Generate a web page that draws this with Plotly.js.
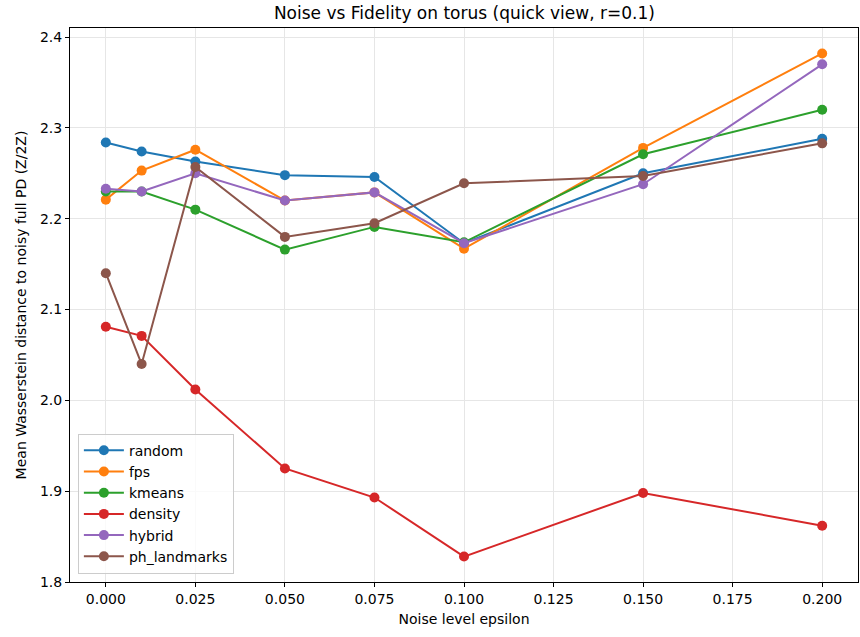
<!DOCTYPE html>
<html>
<head>
<meta charset="utf-8">
<script src="https://cdn.plot.ly/plotly-3.0.1.min.js"></script>
<style>html,body{margin:0;padding:0;background:#fff;}#chart{width:860px;height:637px;}</style>
</head>
<body>
<div id="chart"></div>
<script>
const epsilons = [0, 0.01, 0.025, 0.05, 0.075, 0.1, 0.15, 0.2];
const seriesNames = ["random", "fps", "kmeans", "density", "hybrid", "ph_landmarks"];
const random = [2.284, 2.274, 2.263, 2.248, 2.246, 2.173, 2.250, 2.288];
const fps = [2.221, 2.253, 2.276, 2.220, 2.229, 2.167, 2.278, 2.382];
const kmeans = [2.230, 2.230, 2.210, 2.166, 2.191, 2.174, 2.271, 2.320];
const density = [2.081, 2.071, 2.012, 1.925, 1.893, 1.828, 1.898, 1.862];
const hybrid = [2.233, 2.230, 2.250, 2.220, 2.229, 2.173, 2.238, 2.370];
const ph_landmarks = [2.140, 2.040, 2.257, 2.180, 2.195, 2.239, 2.247, 2.283];
const colors = ["#1f77b4", "#ff7f0e", "#2ca02c", "#d62728", "#9467bd", "#8c564b"];

const allY = [random, fps, kmeans, density, hybrid, ph_landmarks];
const traces = seriesNames.map((n, i) => ({
  x: epsilons, y: allY[i], name: n, type: "scatter", mode: "lines+markers",
  line: {color: colors[i], width: 2},
  marker: {color: colors[i], size: 10}
}));

const font = {family: "DejaVu Sans, sans-serif", size: 14, color: "#000"};
const layout = {
  width: 860, height: 637,
  margin: {l: 70, r: 2, t: 28, b: 55},
  paper_bgcolor: "#fff", plot_bgcolor: "#fff",
  font: font,
  title: {text: "Noise vs Fidelity on torus (quick view, r=0.1)", x: 0.54, xanchor: "center", y: 0.98, yanchor: "middle", font: {family: "DejaVu Sans, sans-serif", size: 17, color: "#000"}},
  xaxis: {
    range: [-0.01, 0.21], tick0: 0, dtick: 0.025, tickformat: ".3f",
    showgrid: true, gridcolor: "#e6e6e6", gridwidth: 1, zeroline: false,
    showline: true, linecolor: "#000", linewidth: 1, mirror: true,
    ticks: "outside", ticklen: 4, tickcolor: "#000",
    title: {text: "Noise level epsilon", font: {size: 14}, standoff: 8}
  },
  yaxis: {
    range: [1.8, 2.41], tick0: 1.8, dtick: 0.1, tickformat: ".1f",
    showgrid: true, gridcolor: "#e6e6e6", gridwidth: 1, zeroline: false,
    showline: true, linecolor: "#000", linewidth: 1, mirror: true,
    ticks: "outside", ticklen: 4, tickcolor: "#000",
    title: {text: "Mean Wasserstein distance to noisy full PD (Z/2Z)", font: {size: 14}, standoff: 10}
  },
  showlegend: true,
  legend: {x: 0.01, y: 0.015, xanchor: "left", yanchor: "bottom", bgcolor: "rgba(255,255,255,0.8)", bordercolor: "#ccc", borderwidth: 1, font: {size: 14}, tracegroupgap: 0, itemwidth: 40}
};
Plotly.newPlot("chart", traces, layout, {displayModeBar: false});
</script>
</body>
</html>
